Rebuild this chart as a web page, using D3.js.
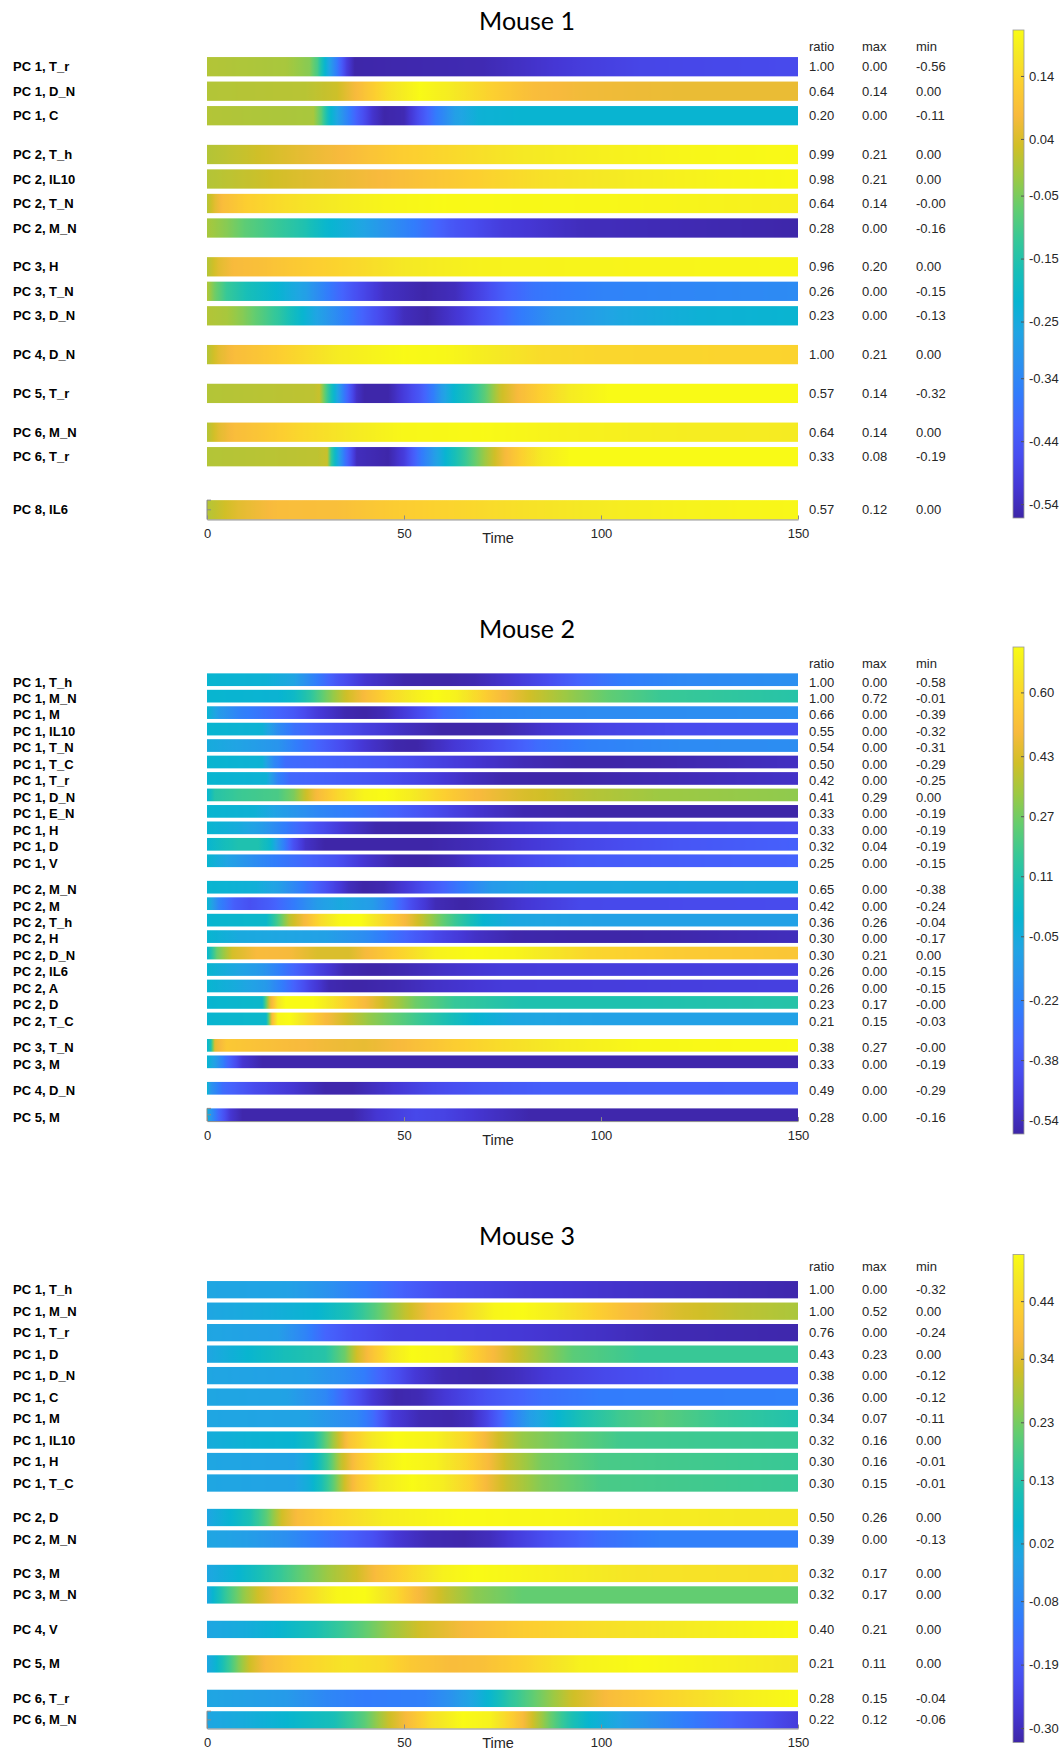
<!DOCTYPE html>
<html>
<head>
<meta charset="utf-8">
<script src="https://cdn.jsdelivr.net/npm/d3@7"></script>
<style>
  body { margin: 0; background: #fff; }
  svg { display: block; font-family: "Liberation Sans", Arial, sans-serif; }
</style>
</head>
<body>
<script>
// ---------- Mouse 1 ----------
const m1Labels = ["PC 1, T_r","PC 1, D_N","PC 1, C","PC 2, T_h","PC 2, IL10","PC 2, T_N","PC 2, M_N",
                  "PC 3, H","PC 3, T_N","PC 3, D_N","PC 4, D_N","PC 5, T_r","PC 6, M_N","PC 6, T_r","PC 8, IL6"];
const m1Ratio = ["1.00","0.64","0.20","0.99","0.98","0.64","0.28","0.96","0.26","0.23","1.00","0.57","0.64","0.33","0.57"];
const m1Max   = ["0.00","0.14","0.00","0.21","0.21","0.14","0.00","0.20","0.00","0.00","0.21","0.14","0.14","0.08","0.12"];
const m1Min   = ["-0.56","0.00","-0.11","0.00","0.00","-0.00","-0.16","0.00","-0.15","-0.13","0.00","-0.32","0.00","-0.19","0.00"];
const m1CRange = [-0.562, 0.213];
const m1CbTicks = [0.14, 0.04, -0.05, -0.15, -0.25, -0.34, -0.44, -0.54];
// [time, value]
const m1Series = [
  [[0,0],[20,-0.01],[26,-0.04],[28,-0.1],[30,-0.22],[33,-0.37],[35.5,-0.5],[37.5,-0.56],[70,-0.55],[80,-0.53],[95,-0.5],[110,-0.48],[150,-0.47]],
  [[0,0],[25,0.005],[33,0.025],[38,0.08],[46,0.16],[54,0.21],[62,0.18],[72,0.13],[83,0.085],[95,0.07],[120,0.06],[150,0.06]],
  [[0,0],[27,-0.01],[29,-0.08],[31,-0.2],[35,-0.33],[38,-0.42],[42,-0.52],[45,-0.56],[50,-0.55],[54,-0.46],[58,-0.37],[63,-0.28],[69,-0.23],[80,-0.22],[150,-0.22]],
  [[0,0],[10,0.02],[20,0.045],[35,0.08],[48,0.12],[65,0.15],[80,0.175],[100,0.19],[125,0.205],[150,0.21]],
  [[0,0],[12,0.02],[25,0.045],[45,0.08],[62,0.115],[85,0.16],[110,0.185],[130,0.2],[150,0.21]],
  [[0,0],[2,0.05],[4,0.085],[10,0.125],[20,0.155],[30,0.175],[45,0.2],[60,0.21],[100,0.205],[150,0.19]],
  [[0,-0.01],[5,-0.04],[10,-0.08],[18,-0.12],[25,-0.16],[30,-0.21],[40,-0.27],[52,-0.36],[62,-0.44],[75,-0.5],[95,-0.54],[150,-0.56]],
  [[0,0],[3,0.05],[7,0.08],[13,0.09],[25,0.12],[38,0.145],[50,0.175],[70,0.195],[150,0.205]],
  [[0,0],[2,-0.06],[5,-0.12],[10,-0.17],[18,-0.22],[25,-0.28],[31,-0.37],[38,-0.46],[45,-0.53],[55,-0.56],[63,-0.54],[70,-0.48],[76,-0.42],[83,-0.38],[100,-0.35],[150,-0.33]],
  [[0,0],[5,-0.01],[9,-0.04],[13,-0.08],[18,-0.13],[23,-0.2],[28,-0.27],[36,-0.37],[43,-0.46],[50,-0.54],[56,-0.56],[64,-0.51],[72,-0.44],[78,-0.38],[88,-0.31],[105,-0.26],[125,-0.23],[150,-0.22]],
  [[0,0],[3,0.05],[7,0.085],[12,0.1],[20,0.13],[33,0.18],[50,0.21],[60,0.205],[72,0.18],[85,0.15],[100,0.14],[150,0.135]],
  [[0,0],[27,0.01],[28.5,0.02],[30,-0.08],[32,-0.2],[35,-0.38],[38,-0.53],[40,-0.56],[46,-0.56],[50,-0.5],[54,-0.44],[57.5,-0.36],[59.5,-0.29],[62.5,-0.22],[66.5,-0.16],[70.5,-0.08],[74.5,0.02],[79,0.08],[85,0.13],[92,0.18],[102,0.21],[150,0.21]],
  [[0,0],[3,0.05],[7,0.085],[12,0.1],[23,0.14],[38,0.18],[50,0.205],[70,0.21],[90,0.195],[120,0.185],[150,0.18]],
  [[0,0],[28,0.01],[30.5,0.02],[31.5,-0.12],[33,-0.24],[35,-0.38],[38,-0.54],[46,-0.56],[50,-0.5],[54,-0.38],[58,-0.28],[60.5,-0.22],[63.5,-0.16],[67.5,-0.08],[71.5,0.0],[76,0.08],[80,0.13],[85,0.18],[92,0.21],[150,0.21]],
  [[0,0],[8,0.05],[18,0.085],[33,0.09],[48,0.12],[65,0.14],[80,0.16],[100,0.18],[120,0.195],[150,0.205]]
];

// ---------- Mouse 2 ----------
const m2Labels = ["PC 1, T_h","PC 1, M_N","PC 1, M","PC 1, IL10","PC 1, T_N","PC 1, T_C","PC 1, T_r","PC 1, D_N","PC 1, E_N",
                  "PC 1, H","PC 1, D","PC 1, V","PC 2, M_N","PC 2, M","PC 2, T_h","PC 2, H","PC 2, D_N","PC 2, IL6",
                  "PC 2, A","PC 2, D","PC 2, T_C","PC 3, T_N","PC 3, M","PC 4, D_N","PC 5, M"];
const m2Ratio = ["1.00","1.00","0.66","0.55","0.54","0.50","0.42","0.41","0.33","0.33","0.32","0.25","0.65","0.42","0.36",
                 "0.30","0.30","0.26","0.26","0.23","0.21","0.38","0.33","0.49","0.28"];
const m2Max   = ["0.00","0.72","0.00","0.00","0.00","0.00","0.00","0.29","0.00","0.00","0.04","0.00","0.00","0.00","0.26",
                 "0.00","0.21","0.00","0.00","0.17","0.15","0.27","0.00","0.00","0.00"];
const m2Min   = ["-0.58","-0.01","-0.39","-0.32","-0.31","-0.29","-0.25","0.00","-0.19","-0.19","-0.19","-0.15","-0.38","-0.24","-0.04",
                 "-0.17","0.00","-0.15","-0.15","-0.00","-0.03","-0.00","-0.19","-0.29","-0.16"];
const m2CRange = [-0.577, 0.721];
const m2CbTicks = [0.60, 0.43, 0.27, 0.11, -0.05, -0.22, -0.38, -0.54];
const m2Series = [
  [[0,0],[15,-0.02],[22,-0.08],[27,-0.22],[33,-0.38],[40,-0.5],[50,-0.57],[60,-0.58],[68,-0.56],[77,-0.5],[86,-0.42],[95,-0.32],[105,-0.25],[120,-0.2],[150,-0.17]],
  [[0,0],[18,-0.01],[22,0.03],[26,0.13],[30,0.26],[35,0.4],[40,0.5],[46,0.6],[53,0.68],[58,0.72],[63,0.69],[69,0.6],[75,0.5],[82,0.41],[92,0.32],[102,0.24],[115,0.17],[150,0.12]],
  [[0,0],[3,-0.12],[8,-0.22],[14,-0.28],[22,-0.37],[28,-0.48],[35,-0.56],[40,-0.58],[45,-0.55],[50,-0.48],[55,-0.4],[60,-0.3],[70,-0.22],[85,-0.19],[150,-0.17]],
  [[0,0],[14,-0.02],[18,-0.18],[22,-0.28],[30,-0.37],[40,-0.46],[50,-0.53],[60,-0.58],[75,-0.57],[85,-0.51],[100,-0.45],[120,-0.42],[150,-0.41]],
  [[0,-0.05],[10,-0.1],[18,-0.15],[23,-0.25],[33,-0.4],[40,-0.5],[48,-0.57],[53,-0.58],[62,-0.5],[72,-0.42],[84,-0.3],[97,-0.23],[120,-0.19],[150,-0.18]],
  [[0,0],[14,-0.02],[17,-0.2],[20,-0.3],[30,-0.33],[45,-0.38],[58,-0.45],[68,-0.5],[80,-0.55],[95,-0.58],[115,-0.57],[150,-0.53]],
  [[0,0],[15,-0.02],[18,-0.22],[21,-0.31],[30,-0.34],[45,-0.4],[57,-0.47],[66,-0.53],[75,-0.57],[90,-0.58],[110,-0.56],[150,-0.52]],
  [[0,0],[2,0.12],[8,0.17],[18,0.2],[22,0.28],[25,0.4],[28,0.5],[33,0.6],[40,0.7],[45,0.72],[52,0.67],[58,0.6],[68,0.5],[80,0.43],[97,0.37],[115,0.33],[150,0.31]],
  [[0,0],[12,-0.02],[18,-0.1],[28,-0.2],[38,-0.26],[48,-0.33],[58,-0.42],[68,-0.5],[80,-0.56],[100,-0.58],[150,-0.58]],
  [[0,0],[8,-0.05],[14,-0.12],[21,-0.27],[28,-0.4],[35,-0.5],[43,-0.57],[55,-0.58],[65,-0.55],[75,-0.5],[90,-0.45],[150,-0.42]],
  [[0,0],[4,0.06],[8,0.1],[13,0.1],[16,0.02],[19,-0.2],[22,-0.4],[25,-0.52],[30,-0.58],[55,-0.58],[70,-0.54],[80,-0.5],[95,-0.44],[120,-0.38],[150,-0.34]],
  [[0,0],[6,-0.1],[12,-0.18],[18,-0.25],[26,-0.33],[33,-0.4],[40,-0.5],[48,-0.57],[55,-0.58],[62,-0.55],[68,-0.5],[80,-0.43],[95,-0.36],[150,-0.33]],
  [[0,0],[12,-0.03],[18,-0.1],[25,-0.27],[31,-0.42],[36,-0.54],[40,-0.58],[45,-0.56],[51,-0.48],[57,-0.38],[63,-0.28],[72,-0.13],[85,-0.07],[150,-0.05]],
  [[0,0],[3,-0.22],[7,-0.35],[11,-0.4],[16,-0.35],[22,-0.25],[28,-0.12],[34,-0.06],[42,-0.12],[47,-0.25],[52,-0.42],[58,-0.55],[65,-0.58],[72,-0.55],[80,-0.5],[95,-0.43],[150,-0.42]],
  [[0,0],[15,0.02],[18,0.2],[21,0.38],[25,0.5],[29,0.62],[34,0.71],[39,0.72],[45,0.6],[50,0.5],[54,0.4],[60,0.24],[66,0.1],[70,0.0],[78,-0.07],[100,-0.1],[150,-0.1]],
  [[0,0],[8,-0.06],[20,-0.08],[30,-0.1],[40,-0.18],[47,-0.28],[58,-0.43],[68,-0.52],[78,-0.57],[100,-0.58],[120,-0.57],[150,-0.54]],
  [[0,0],[1,0.1],[2.5,0.25],[6.5,0.42],[13,0.5],[21,0.49],[28,0.43],[36,0.43],[41,0.5],[50,0.6],[58,0.69],[68,0.72],[78,0.7],[97,0.6],[120,0.56],[150,0.54]],
  [[0,0],[8,-0.08],[14,-0.14],[21,-0.3],[28,-0.45],[35,-0.56],[42,-0.58],[50,-0.56],[60,-0.52],[75,-0.48],[150,-0.46]],
  [[0,0],[8,-0.06],[15,-0.13],[21,-0.3],[26,-0.45],[31,-0.56],[38,-0.58],[48,-0.56],[58,-0.52],[75,-0.48],[150,-0.46]],
  [[0,0],[14,0.02],[16,0.45],[18,0.65],[20,0.72],[27,0.72],[32,0.64],[37,0.55],[41,0.48],[45,0.4],[53,0.26],[63,0.16],[80,0.1],[110,0.1],[150,0.12]],
  [[0,0],[15,0.02],[16.5,0.5],[18,0.7],[21,0.72],[26,0.6],[30,0.5],[36,0.4],[41,0.32],[48,0.24],[58,0.12],[68,0.0],[78,-0.07],[100,-0.1],[150,-0.1]],
  [[0,0],[1,0.1],[2,0.45],[5,0.55],[15,0.52],[30,0.48],[40,0.46],[50,0.5],[63,0.57],[75,0.62],[90,0.67],[110,0.71],[150,0.72]],
  [[0,0],[2,-0.1],[5,-0.3],[9,-0.5],[14,-0.57],[150,-0.57]],
  [[0,0],[1,-0.15],[4,-0.3],[12,-0.42],[22,-0.5],[30,-0.57],[37,-0.57],[47,-0.5],[57,-0.43],[70,-0.38],[85,-0.35],[150,-0.34]],
  [[0,0],[1,-0.15],[3,-0.32],[6,-0.5],[9,-0.57],[37,-0.57],[43,-0.5],[53,-0.43],[60,-0.45],[70,-0.51],[82,-0.57],[150,-0.57]]
];

// ---------- Mouse 3 ----------
const m3Labels = ["PC 1, T_h","PC 1, M_N","PC 1, T_r","PC 1, D","PC 1, D_N","PC 1, C","PC 1, M","PC 1, IL10","PC 1, H",
                  "PC 1, T_C","PC 2, D","PC 2, M_N","PC 3, M","PC 3, M_N","PC 4, V","PC 5, M","PC 6, T_r","PC 6, M_N"];
const m3Ratio = ["1.00","1.00","0.76","0.43","0.38","0.36","0.34","0.32","0.30","0.30","0.50","0.39","0.32","0.32","0.40","0.21","0.28","0.22"];
const m3Max   = ["0.00","0.52","0.00","0.23","0.00","0.00","0.07","0.16","0.16","0.15","0.26","0.00","0.17","0.17","0.21","0.11","0.15","0.12"];
const m3Min   = ["-0.32","0.00","-0.24","0.00","-0.12","-0.12","-0.11","0.00","-0.01","-0.01","0.00","-0.13","0.00","0.00","0.00","0.00","-0.04","-0.06"];
const m3CRange = [-0.325, 0.521];
const m3CbTicks = [0.44, 0.34, 0.23, 0.13, 0.02, -0.08, -0.19, -0.30];
const m3Series = [
  [[0,0],[20,-0.01],[30,-0.05],[40,-0.11],[50,-0.17],[60,-0.22],[80,-0.26],[100,-0.28],[125,-0.3],[150,-0.32]],
  [[0,0],[15,0.02],[28,0.05],[36,0.11],[43,0.2],[50,0.3],[57,0.38],[65,0.44],[73,0.51],[80,0.52],[88,0.49],[97,0.44],[107,0.38],[120,0.33],[135,0.3],[150,0.28]],
  [[0,0],[18,-0.02],[25,-0.09],[30,-0.16],[37,-0.21],[48,-0.25],[80,-0.27],[100,-0.29],[115,-0.31],[150,-0.32]],
  [[0,0],[10,0.05],[20,0.1],[30,0.13],[35,0.22],[38,0.32],[42,0.4],[47,0.48],[52,0.52],[62,0.5],[67,0.44],[72,0.38],[78,0.32],[85,0.26],[93,0.2],[110,0.16],[150,0.16]],
  [[0,0],[25,-0.02],[35,-0.07],[40,-0.11],[47,-0.2],[53,-0.27],[60,-0.31],[70,-0.32],[78,-0.3],[88,-0.26],[100,-0.23],[120,-0.2],[150,-0.2]],
  [[0,0],[20,-0.01],[30,-0.08],[36,-0.18],[42,-0.27],[48,-0.32],[54,-0.31],[62,-0.26],[72,-0.2],[85,-0.14],[100,-0.11],[150,-0.1]],
  [[0,0],[25,-0.01],[38,-0.08],[42,-0.14],[47,-0.26],[54,-0.31],[62,-0.32],[67,-0.3],[71,-0.24],[76,-0.13],[82,-0.02],[89,0.05],[95,0.11],[105,0.17],[115,0.2],[130,0.16],[150,0.12]],
  [[0,0.02],[10,0.04],[22,0.05],[27,0.1],[30,0.2],[33,0.3],[36,0.4],[42,0.48],[48,0.52],[58,0.5],[66,0.44],[70,0.38],[74,0.32],[80,0.26],[90,0.22],[105,0.17],[150,0.16]],
  [[0,0],[22,-0.01],[26,0.03],[28,0.08],[31,0.18],[34,0.3],[38,0.4],[44,0.48],[50,0.52],[58,0.5],[66,0.44],[71,0.38],[76,0.31],[85,0.23],[100,0.18],[150,0.16]],
  [[0,0],[22,-0.01],[26,0.03],[29,0.1],[32,0.2],[35,0.32],[38,0.4],[44,0.48],[52,0.52],[60,0.49],[67,0.43],[71,0.37],[76,0.31],[85,0.24],[100,0.18],[150,0.16]],
  [[0,0],[6,0.05],[11,0.11],[15,0.2],[19,0.32],[23,0.38],[31,0.43],[45,0.49],[65,0.52],[90,0.51],[110,0.49],[150,0.48]],
  [[0,0],[10,-0.02],[20,-0.06],[27,-0.11],[35,-0.16],[42,-0.21],[48,-0.27],[56,-0.31],[65,-0.32],[72,-0.3],[78,-0.26],[90,-0.19],[100,-0.14],[115,-0.1],[150,-0.1]],
  [[0,0],[8,0.05],[18,0.15],[24,0.21],[31,0.27],[38,0.32],[43,0.38],[52,0.45],[60,0.5],[68,0.52],[85,0.5],[110,0.47],[150,0.46]],
  [[0,0],[1.5,0.05],[5,0.16],[9,0.25],[13,0.32],[18,0.38],[26,0.45],[33,0.51],[40,0.52],[48,0.45],[53,0.38],[60,0.31],[68,0.25],[80,0.21],[150,0.21]],
  [[0,0],[10,0.02],[18,0.05],[28,0.11],[38,0.19],[46,0.26],[54,0.32],[65,0.37],[80,0.42],[100,0.46],[125,0.49],[150,0.52]],
  [[0,0],[2,0.04],[5,0.14],[8,0.24],[11,0.32],[15,0.38],[23,0.43],[35,0.47],[45,0.45],[52,0.41],[62,0.38],[70,0.39],[82,0.44],[95,0.5],[110,0.52],[130,0.5],[150,0.48]],
  [[0,0],[20,-0.03],[30,-0.08],[40,-0.11],[55,-0.1],[62,-0.05],[68,0.01],[72,0.06],[77,0.14],[83,0.21],[92,0.31],[102,0.38],[115,0.43],[135,0.49],[150,0.52]],
  [[0,0],[10,0.02],[20,0.05],[32,0.1],[40,0.2],[46,0.31],[51,0.38],[57,0.46],[65,0.52],[72,0.5],[77,0.43],[80,0.38],[83,0.31],[87,0.22],[92,0.12],[97,0.05],[107,-0.02],[122,-0.11],[140,-0.2],[150,-0.26]]
];

const xTicks = [0, 50, 100, 150];
const colHeads = ["ratio", "max", "min"];

// parula colormap (every 4th entry of the 64-step table)
const parulaHex = ["#3e26a8","#4537d5","#484df0","#4563fd","#327cfc","#2b91ef","#20a5e3","#08b5d0","#19bfb6",
                   "#37c897","#64cd6f","#9dc943","#d1bf27","#f8ba3d","#fccf30","#f5e924","#f9fb15"];
const parula = d3.scaleLinear()
    .domain([0,4,8,12,16,20,24,28,32,36,40,44,48,52,56,60,63].map(d => d / 63))
    .range(parulaHex)
    .clamp(true);

const width = 1060;
const height = 1751;
const font = '"Liberation Sans", Arial, sans-serif';

const svg = d3.select('body').append('svg')
    .attr('width', width)
    .attr('height', height);
const defs = svg.append('defs');

const x = d3.scaleLinear().domain([0, 150]).range([207, 798]);
const colX = [809, 862, 916];

const panels = [
  { id: 'm1', title: 'Mouse 1', labels: m1Labels, cols: [m1Ratio, m1Max, m1Min], series: m1Series,
    cRange: m1CRange, cbTicks: m1CbTicks, timeDy: 18.7,
    titleY: 21, headY: 46, y0: 66.7, pitch: 24.5, gap: 14.3, barH: 19.3, textDy: 0, cbTop: 30, cbBot: 518 },
  { id: 'm2', title: 'Mouse 2', labels: m2Labels, cols: [m2Ratio, m2Max, m2Min], series: m2Series,
    cRange: m2CRange, cbTicks: m2CbTicks, timeDy: 18.7,
    titleY: 629, headY: 663, y0: 679.7, pitch: 16.46, gap: 10, barH: 12.7, textDy: 2.3, cbTop: 647, cbBot: 1134 },
  { id: 'm3', title: 'Mouse 3', labels: m3Labels, cols: [m3Ratio, m3Max, m3Min], series: m3Series,
    cRange: m3CRange, cbTicks: m3CbTicks, timeDy: 14.5,
    titleY: 1236.5, headY: 1266.7, y0: 1289.7, pitch: 21.48, gap: 13, barH: 17.3, textDy: 0, cbTop: 1254.4, cbBot: 1742.5 }
];

panels.forEach(drawPanel);

function pcOf(label) {
    return +label.match(/PC (\d+)/)[1];
}

function drawPanel(p) {
    const g = svg.append('g');
    const norm = d3.scaleLinear().domain(p.cRange).range([0, 1]);
    const slotY = d3.scaleLinear().domain([0, 1]).range([p.y0, p.y0 + p.pitch]);
    const rowY = i => slotY(i + (pcOf(p.labels[i]) - 1) * p.gap / p.pitch);

    // title
    g.append('text')
        .attr('x', 527)
        .attr('y', p.titleY)
        .attr('dy', '0.35em')
        .attr('text-anchor', 'middle')
        .attr('font-family', 'Lato, "Open Sans", sans-serif')
        .attr('font-size', 25)
        .attr('fill', '#000')
        .text(p.title);

    // column headers
    g.selectAll('.head')
        .data(colHeads)
        .enter()
        .append('text')
            .attr('x', (d, k) => colX[k])
            .attr('y', p.headY)
            .attr('dy', '0.35em')
            .attr('font-size', 13)
            .attr('fill', '#262626')
            .text(d => d);

    // gradient per bar, stops taken from the series via a linear scale
    p.series.forEach((s, i) => {
        const val = d3.scaleLinear().domain(s.map(d => d[0])).range(s.map(d => d[1]));
        const grad = defs.append('linearGradient')
            .attr('id', `${p.id}g${i}`)
            .attr('x1', '0%').attr('x2', '100%')
            .attr('y1', '0%').attr('y2', '0%');
        grad.selectAll('stop')
            .data(d3.range(0, 150.01, 0.5))
            .enter()
            .append('stop')
                .attr('offset', t => t / 150)
                .attr('stop-color', t => parula(norm(val(t))));
    });

    // bars
    g.selectAll('.bar')
        .data(p.series)
        .enter()
        .append('rect')
            .attr('x', x(0))
            .attr('y', (d, i) => rowY(i) - p.barH / 2)
            .attr('width', x(150) - x(0))
            .attr('height', p.barH)
            .attr('fill', (d, i) => `url(#${p.id}g${i})`);

    // row labels
    g.selectAll('.lab')
        .data(p.labels)
        .enter()
        .append('text')
            .attr('x', 13)
            .attr('y', (d, i) => rowY(i) + p.textDy)
            .attr('dy', '0.35em')
            .attr('font-size', 13)
            .attr('font-weight', 'bold')
            .attr('fill', '#000')
            .text(d => d);

    // ratio / max / min columns
    p.cols.forEach((col, k) => {
        g.selectAll(`.c${k}`)
            .data(col)
            .enter()
            .append('text')
                .attr('x', colX[k])
                .attr('y', (d, i) => rowY(i) + p.textDy)
                .attr('dy', '0.35em')
                .attr('font-size', 13)
                .attr('fill', '#262626')
                .text(d => d);
    });

    // x-axis under the last bar
    const last = p.labels.length - 1;
    const axisY = rowY(last) + p.barH / 2;
    const xa = g.append('g')
        .attr('transform', `translate(0, ${axisY})`)
        .call(d3.axisBottom(x).tickValues(xTicks).tickSize(-4).tickSizeOuter(0).tickPadding(9.5));
    xa.attr('font-size', 13).attr('font-family', font);
    xa.select('.domain').attr('stroke', '#8a8a8a');
    xa.selectAll('line').attr('stroke', '#8a8a8a');
    xa.selectAll('text').attr('fill', '#262626');

    // small left axis stub on the last bar
    g.append('path')
        .attr('d', `M${x(0) + 4},${axisY - p.barH}H${x(0)}V${axisY}M${x(0)},${axisY - p.barH / 2}H${x(0) + 4}`)
        .attr('fill', 'none')
        .attr('stroke', '#8a8a8a');

    g.append('text')
        .attr('x', 498)
        .attr('y', axisY + p.timeDy)
        .attr('dy', '0.35em')
        .attr('text-anchor', 'middle')
        .attr('font-size', 14.5)
        .attr('fill', '#262626')
        .text('Time');

    // colorbar
    const cb = defs.append('linearGradient')
        .attr('id', `${p.id}cb`)
        .attr('x1', '0%').attr('x2', '0%')
        .attr('y1', '100%').attr('y2', '0%');
    cb.selectAll('stop')
        .data(parula.domain())
        .enter()
        .append('stop')
            .attr('offset', d => d)
            .attr('stop-color', d => parula(d));

    const cbY = d3.scaleLinear().domain(p.cRange).range([p.cbBot, p.cbTop]);
    g.append('rect')
        .attr('x', 1013)
        .attr('y', p.cbTop)
        .attr('width', 11)
        .attr('height', p.cbBot - p.cbTop)
        .attr('fill', `url(#${p.id}cb)`)
        .attr('stroke', '#9a9a9a')
        .attr('stroke-width', 0.8);

    const ca = g.append('g')
        .attr('transform', 'translate(1024, 0)')
        .call(d3.axisRight(cbY).tickValues(p.cbTicks).tickSize(-3).tickPadding(5).tickFormat(d => d.toFixed(2)));
    ca.attr('font-size', 13).attr('font-family', font);
    ca.select('.domain').remove();
    ca.selectAll('line').attr('stroke', '#555');
    ca.selectAll('text').attr('fill', '#262626');
}
</script>
</body>
</html>
